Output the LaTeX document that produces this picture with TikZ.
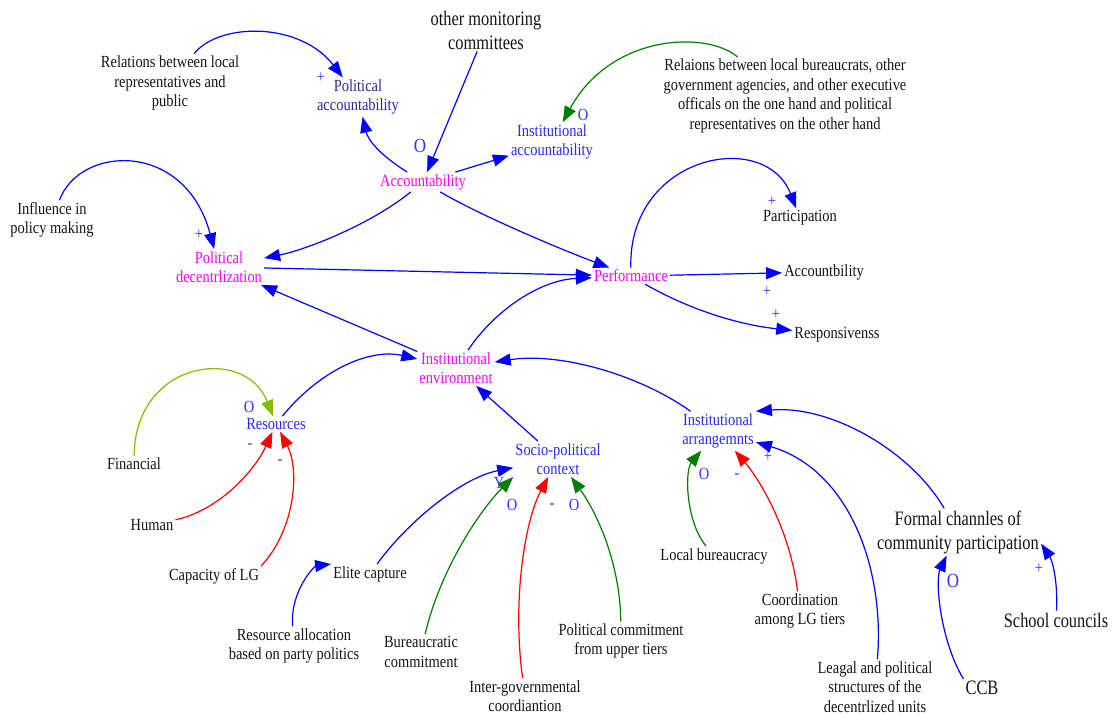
\documentclass[tikz,border=0pt]{standalone}
\usepackage{fontspec}
\setmainfont[FakeStretch=0.85]{Liberation Serif}
\newfontfamily\bigfont[FakeStretch=0.8]{Liberation Serif}
\usetikzlibrary{arrows.meta}

\definecolor{lineblue}{RGB}{0,0,255}
\definecolor{linegreen}{RGB}{0,125,0}
\definecolor{linered}{RGB}{255,0,0}
\definecolor{lightgreen}{RGB}{128,190,0}
\definecolor{coretext}{RGB}{255,0,255}
\definecolor{subtext}{RGB}{40,40,255}
\definecolor{navytext}{RGB}{40,40,150}
\definecolor{plaintext}{RGB}{20,20,20}
\definecolor{signblue}{RGB}{50,50,255}

\begin{document}
\begin{tikzpicture}[x=1pt,y=-1pt,
  every node/.style={inner sep=2pt, align=center, text=plaintext,
    font=\fontsize{17}{19.5}\selectfont},
  bigtext/.style={font=\bigfont\fontsize{20.5}{24}\selectfont},
  coretxt/.style={text=coretext},
  subtxt/.style={text=subtext},
  navytxt/.style={text=navytext},
  signtxt/.style={text=signblue, inner sep=0pt, font=\fontsize{17}{19}\selectfont},
  bigsigntxt/.style={text=signblue, inner sep=0pt, font=\fontsize{20}{22}\selectfont},
  linkline/.style={line width=1.2pt, -{Triangle[length=16pt,width=12pt]}},
  poslink/.style={linkline, draw=lineblue},
  neglink/.style={linkline, draw=linered},
  mixlink/.style={linkline, draw=linegreen},
  finlink/.style={linkline, draw=lightgreen},
]
\fill[white] (0,0) rectangle (1115,717);
\useasboundingbox (0,0) rectangle (1115,717);

% ---- variables ----
\node[bigtext] (om) at (486,30) {other monitoring\\committees};
\node (rel) at (170,83) {Relations between local\\representatives and\\public};
\node[navytxt] (pacc) at (358,97) {Political\\accountability};
\node (rbur) at (785,96) {Relaions between local bureaucrats, other\\government agencies, and other executive\\officals on the one hand and political\\representatives on the other hand};
\node[subtxt] (iacc) at (552,142) {Institutional\\accountability};
\node[coretxt] (acc) at (423,182) {Accountability};
\node (infl) at (52,220) {Influence in\\policy making};
\node[coretxt] (pdec) at (219,267) {Political\\decentrlization};
\node[coretxt] (perf) at (631,276) {Performance};
\node (part) at (800,218) {Participation};
\node (acb) at (824,272) {Accountbility};
\node (resp) at (837,335) {Responsivenss};
\node[coretxt] (ienv) at (456,368) {Institutional\\environment};
\node[subtxt] (res) at (276,424) {Resources};
\node (finc) at (134,464) {Financial};
\node (hum) at (152,525) {Human};
\node (cap) at (214,576) {Capacity of LG};
\node[subtxt] (spc) at (558,459) {Socio-political\\context};
\node (elite) at (370,574) {Elite capture};
\node (ralloc) at (294,646) {Resource allocation\\based on party politics};
\node (bcom) at (421,652) {Bureaucratic\\commitment};
\node (igov) at (525,696) {Inter-governmental\\coordiantion};
\node (pcom) at (621,641) {Political commitment\\from upper tiers};
\node[subtxt] (iarr) at (718,431) {Institutional\\arrangemnts};
\node (lbur) at (714,556) {Local bureaucracy};
\node (coord) at (800,611) {Coordination\\among LG tiers};
\node (legal) at (875,687) {Leagal and political\\structures of the\\decentrlized units};
\node[bigtext] (formal) at (958,532) {Formal channles of\\community participation};
\node[bigtext] (ccb) at (982,688) {CCB};
\node[bigtext] (school) at (1056,620) {School councils};

% ---- polarity signs ----
\node[signtxt] (s1) at (321,78) {+};
\node[signtxt] (s2) at (583,115) {O};
\node[bigsigntxt] (s3) at (420,146) {O};
\node[signtxt] (s4) at (199,235) {+};
\node[signtxt] (s5) at (772,202) {+};
\node[signtxt] (s6) at (767,292) {+};
\node[signtxt] (s7) at (776,315) {+};
\node[signtxt] (s8) at (249,407) {O};
\node[signtxt] (s9) at (250,446) {-};
\node[signtxt] (s10) at (280,462) {-};
\node[signtxt] (s11) at (499,483) {Y};
\node[signtxt] (s12) at (512,505) {O};
\node[signtxt] (s13) at (552,506) {-};
\node[signtxt] (s14) at (574,505) {O};
\node[signtxt] (s15) at (704,474) {O};
\node[signtxt] (s16) at (737,476) {-};
\node[signtxt] (s17) at (768,457) {+};
\node[bigsigntxt] (s18) at (953,581) {O};
\node[signtxt] (s19) at (1039,569) {+};

% ---- links ----
\draw[poslink] (rel) .. controls (220,22) and (300,22) .. (pacc);
\draw[poslink] (acc) .. controls (380,155) and (368,140) .. (pacc);
\draw[poslink] (om) -- (acc);
\draw[poslink] (acc) .. controls (485,163) and (495,160) .. (iacc);
\draw[mixlink] (rbur) .. controls (705,30) and (610,35) .. (iacc);
\draw[poslink] (infl) .. controls (80,145) and (185,140) .. (pdec);
\draw[poslink] (acc) .. controls (370,225) and (305,250) .. (pdec);
\draw[poslink] (pdec) -- (perf);
\draw[poslink] (ienv) -- (pdec);
\draw[poslink] (acc) .. controls (480,215) and (550,245) .. (perf);
\draw[poslink] (ienv) .. controls (495,310) and (540,280) .. (perf);
\draw[poslink] (perf) .. controls (628,155) and (765,128) .. (part);
\draw[poslink] (perf) -- (acb);
\draw[poslink] (perf) .. controls (690,310) and (740,325) .. (resp);
\draw[finlink] (finc) .. controls (135,360) and (245,345) .. (res);
\draw[neglink] (hum) .. controls (220,510) and (255,470) .. (res);
\draw[neglink] (cap.north east) .. controls (295,530) and (300,470) .. (res);
\draw[poslink] (res) .. controls (320,370) and (370,348) .. (ienv);
\draw[poslink] (spc) -- (ienv);
\draw[poslink] (iarr) .. controls (640,375) and (560,352) .. (ienv);
\draw[poslink] (elite) .. controls (405,525) and (460,478) .. (spc);
\draw[poslink] (ralloc) .. controls (290,590) and (315,566) .. (elite.north west);
\draw[mixlink] (bcom) .. controls (440,570) and (480,510) .. (spc.south west);
\draw[neglink] (igov) .. controls (512,600) and (525,520) .. (spc);
\draw[mixlink] (pcom) .. controls (620,560) and (595,510) .. (spc);
\draw[mixlink] (lbur) .. controls (685,520) and (685,470) .. (iarr);
\draw[neglink] (coord) .. controls (790,530) and (760,480) .. (iarr);
\draw[poslink] (legal) .. controls (885,570) and (850,470) .. (iarr);
\draw[poslink] (formal) .. controls (910,450) and (830,405) .. (iarr.north east);
\draw[poslink] (ccb.north west) .. controls (940,640) and (935,580) .. (formal);
\draw[poslink] (school) .. controls (1058,580) and (1052,560) .. (formal.-8);
\end{tikzpicture}
\end{document}
